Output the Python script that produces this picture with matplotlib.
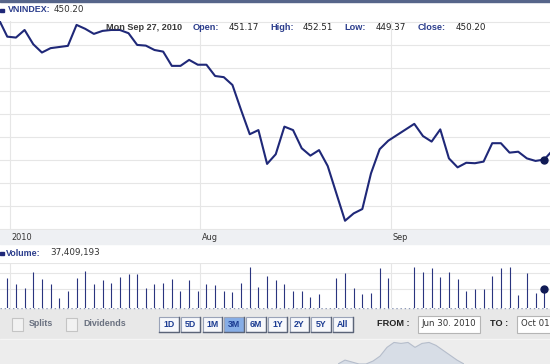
import numpy as np
import pandas as pd
import matplotlib
matplotlib.use("Agg")
import matplotlib.pyplot as plt
from matplotlib.patches import Rectangle

W, H = 550, 364

# trading days (Sep 2-3 2010 were market holidays)
holidays = ["2010-09-02", "2010-09-03"]
dates = [d for d in pd.bdate_range("2010-06-30", "2010-09-28").strftime("%Y-%m-%d")
         if d not in holidays]

close = [511.3, 503.6, 503.2, 506.5, 500.3, 496.7, 498.6, 499.1, 499.6, 508.7,
         507.0, 504.8, 506.1, 506.5, 506.5, 505.1, 500.0, 499.7, 497.8, 497.1,
         490.9, 490.9, 493.5, 491.4, 491.4, 486.5, 486.0, 482.6, 471.7, 461.2,
         463.0, 448.3, 452.5, 464.5, 463.0, 455.1, 451.9, 454.3, 447.4, 435.5,
         423.6, 426.8, 428.7, 444.2, 454.7, 458.4,
         465.7, 460.4, 458.0, 463.3, 450.7, 446.8, 448.8, 448.6, 449.3, 457.3,
         457.3, 453.2, 453.6, 450.7, 449.6, 450.2, 454.3]

# volume in millions of shares
volume_m = [50.0, 60.0, 48.3, 39.5, 73.6, 58.0, 48.3, 18.9, 34.5, 60.0,
            75.6, 48.3, 56.5, 51.0, 62.1, 68.8, 68.2, 40.7, 48.3, 51.0,
            58.0, 34.5, 56.5, 34.5, 48.3, 46.2, 34.5, 32.5, 51.0, 83.8,
            42.7, 64.7, 56.5, 48.3, 33.9, 34.5, 21.0, 27.7, 0.0, 60.0,
            70.3, 39.5, 27.7, 29.2, 80.6, 60.0,
            82.6, 73.0, 80.6, 62.1, 73.0, 58.0, 34.5, 38.6, 37.4, 65.3,
            80.6, 83.8, 25.1, 71.5, 29.2, 37.41, 45.0]

month_labels = ["2010", "Aug", "Sep"]
month_starts = ["2010-07-01", "2010-08-02", "2010-09-01"]

sel_date = "2010-09-27"
sel_title = "Mon Sep 27, 2010"
ohlc_labels = ["Open:", "High:", "Low:", "Close:"]
ohlc_values = ["451.17", "452.51", "449.37", "450.20"]
last_close = "450.20"
last_volume = "37,409,193"

range_buttons = ["1D", "5D", "1M", "3M", "6M", "1Y", "2Y", "5Y", "All"]
active_range = "3M"
from_date = "Jun 30. 2010"
to_date = "Oct 01"

# long-term navigator silhouette (relative level)
nav_level = [0, 4, 2, 0, 0, 3, 8, 17, 22, 21, 22, 17, 21, 22, 19, 14, 9, 4, 0]

NAVY = "#1f2878"
LABEL = "#2b3d8c"

plt.rcParams["font.family"] = ["DejaVu Sans"]
BOLD = dict(family=["Liberation Sans", "DejaVu Sans"], weight="bold")


def fx(x):
    return x / W


def fy(y):
    return 1 - y / H


x = np.busday_count("2010-06-30", np.array(dates, dtype="datetime64[D]"))
month_x = np.busday_count("2010-06-30", np.array(month_starts, dtype="datetime64[D]")) + 0.3
i_sel = dates.index(sel_date)
xlim = (0.16, 63.67)

fig = plt.figure(figsize=(W / 100, H / 100), dpi=100)

# background bands in pixel coordinates
bg = fig.add_axes([0, 0, 1, 1], zorder=-10)
bg.set_xlim(0, W)
bg.set_ylim(H, 0)
bg.axis("off")
bg.add_patch(Rectangle((0, 0), W, H, color="white"))
bg.add_patch(Rectangle((0, 0), W, 1.5, color="#56658a"))
bg.add_patch(Rectangle((0, 229.5), W, 14.5, color="#eef0f3"))
bg.add_patch(Rectangle((0, 308.5), W, 30, color="#e8e8e8"))
bg.add_patch(Rectangle((0, 338.5), W, 1, color="#f7f7f7"))
bg.add_patch(Rectangle((0, 339.5), W, 25, color="#ededed"))
bg.plot([0, W], [308, 308], ls=(0, (1, 2)), color="#8f9bb8", lw=1)

# price
ax = fig.add_axes([0, fy(229.5), 1, (229.5 - 21) / H])
ax.plot(x, close, color=NAVY, lw=1.5, solid_joinstyle="round")
ax.plot(x[i_sel], close[i_sel], "o", ms=5, color="#101a55")
ax.set_xlim(*xlim)
ax.set_ylim(419.8, 510.4)
ax.set_yticks(np.arange(420, 511, 10))
ax.set_xticks(month_x)
ax.grid(color="#e6e6e6", lw=0.8)
ax.set_axisbelow(True)
ax.tick_params(length=0, labelbottom=False, labelleft=False)
for s in ax.spines.values():
    s.set_visible(False)

# month labels in the date strip
for mx, lab in zip(month_x, month_labels):
    px = (mx - xlim[0]) / (xlim[1] - xlim[0]) * W
    fig.text(fx(px + 2), fy(237), lab, fontsize=5.9, color="#333333", va="center")

# volume
axv = fig.add_axes([0, fy(307.5), 1, (307.5 - 262.5) / H])
axv.vlines(x, 0, volume_m, color="#29347f", lw=0.8)
axv.plot(x[i_sel], volume_m[i_sel], "o", ms=5, color="#101a55")
axv.set_xlim(*xlim)
axv.set_ylim(0, 92.5)
axv.set_yticks([37.4, 71.5, 90.8])
axv.set_xticks(month_x)
axv.grid(color="#e6e6e6", lw=0.8)
axv.set_axisbelow(True)
axv.tick_params(length=0, labelbottom=False, labelleft=False)
for s in axv.spines.values():
    s.set_visible(False)

# header texts
bg.add_patch(Rectangle((0, 8.5), 4, 3, color=NAVY))
fig.text(fx(8), fy(10), "VNINDEX:", fontsize=6.4, color=LABEL, va="center", **BOLD)
fig.text(fx(54), fy(10), last_close, fontsize=6.3, color="#333333", va="center")

fig.text(fx(106), fy(28), sel_title, fontsize=6.6, color="#3a3a3a", va="center", **BOLD)
label_x = [193, 270, 344, 418]
value_x = [229, 303, 376, 456]
for lx, vx, lab, val in zip(label_x, value_x, ohlc_labels, ohlc_values):
    fig.text(fx(lx), fy(28), lab, fontsize=6.6, color=LABEL, va="center", **BOLD)
    fig.text(fx(vx), fy(28), val, fontsize=6.3, color="#222222", va="center")

bg.add_patch(Rectangle((0, 251.5), 4, 3, color=NAVY))
fig.text(fx(6), fy(253), "Volume:", fontsize=6.4, color=LABEL, va="center", **BOLD)
fig.text(fx(50), fy(253), last_volume, fontsize=6.3, color="#333333", va="center")

# controls bar
for cx, lab in [(12, "Splits"), (66, "Dividends")]:
    bg.add_patch(Rectangle((cx, 317.5), 11, 13, facecolor="#f2f2f2", edgecolor="#c4c4c4", lw=0.8))
    fig.text(fx(cx + 17), fy(324), lab, fontsize=6.4, color="#6a7180", va="center", **BOLD)

for i, lab in enumerate(range_buttons):
    bx = 159 + i * 21.75
    active = lab == active_range
    bg.add_patch(Rectangle((bx, 316.5), 19.5, 15.5,
                           facecolor="#86ade6" if active else "#f7f8fb",
                           edgecolor="#9aa3b8", lw=0.8))
    bg.plot([bx + 19.5, bx + 19.5, bx], [316.5, 332, 332], color="#5b6478", lw=1)
    fig.text(fx(bx + 9.75), fy(324.5), lab, fontsize=6.3, color="#1c3c92",
             ha="center", va="center", **BOLD)

fig.text(fx(377), fy(324), "FROM :", fontsize=6.6, color="#222222", va="center", **BOLD)
bg.add_patch(Rectangle((418, 315.5), 62, 17, facecolor="white", edgecolor="#b5b5b5", lw=0.8))
fig.text(fx(449), fy(324), from_date, fontsize=6.2, color="#333333", ha="center", va="center")
fig.text(fx(490), fy(324), "TO :", fontsize=6.6, color="#222222", va="center", **BOLD)
bg.add_patch(Rectangle((517, 315.5), 50, 17, facecolor="white", edgecolor="#b5b5b5", lw=0.8))
fig.text(fx(521), fy(324), to_date, fontsize=6.2, color="#333333", va="center")

# navigator
axn = fig.add_axes([fx(338), 0, (464 - 338) / W, (H - 339.5) / H])
nx = np.arange(len(nav_level))
axn.fill_between(nx, 0, nav_level, facecolor="#d7dde6", edgecolor="none")
axn.plot(nx, nav_level, color="#b5bdcb", lw=0.8)
axn.set_xlim(0, len(nav_level) - 1)
axn.set_ylim(0, 25)
axn.axis("off")

fig.savefig("out.png", dpi=100)
